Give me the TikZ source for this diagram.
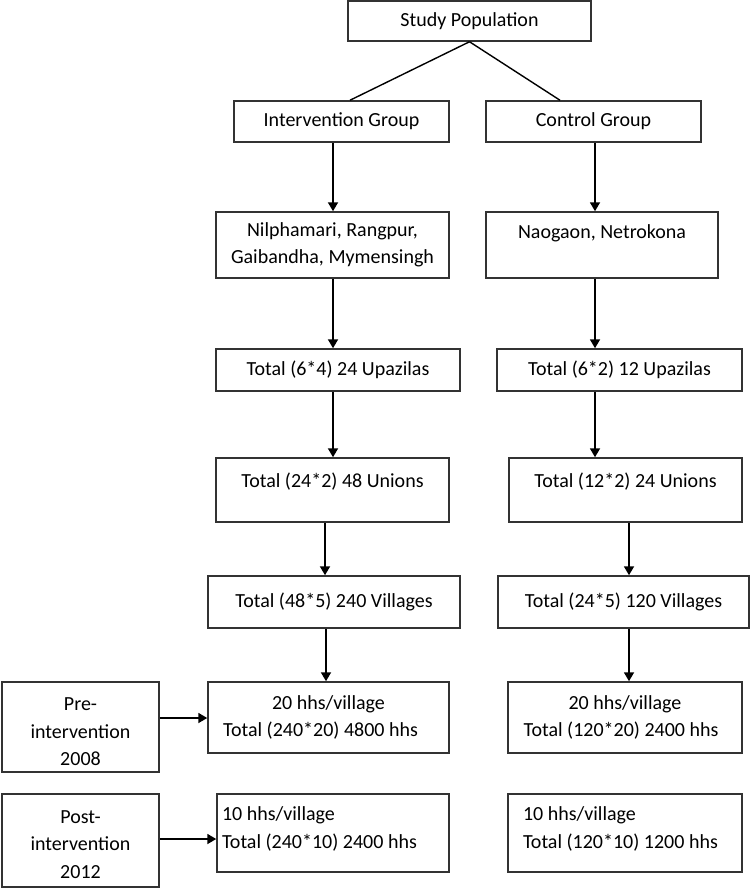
\documentclass[tikz,border=0pt]{standalone}
\usepackage{fontspec}
\setmainfont{Carlito}
\usetikzlibrary{arrows.meta}
\tikzset{
  box/.style={draw=black!80, line width=1.5pt, inner sep=0pt, align=center,
    font=\fontsize{20}{27.5}\selectfont, text=black},
  arr/.style={draw=black, line width=1.8pt, -{Triangle[length=9pt,width=10pt]}},
  conn/.style={draw=black, line width=1.4pt},
}
\begin{document}
\begin{tikzpicture}[x=1pt, y=-1pt]
\useasboundingbox (0,0) rectangle (751,888);
% top
\node[box, minimum width=243pt, minimum height=40pt] (sp) at (469.5,21) {Study Population};
\node[box, minimum width=215pt, minimum height=41pt] (ig) at (341.5,121.5) {Intervention Group};
\node[box, minimum width=215pt, minimum height=41pt] (cg) at (593.5,121.5) {Control Group};
% districts
\node[box, minimum width=233pt, minimum height=66pt] (nil) at (332.5,245) {Nilphamari, Rangpur,\\Gaibandha, Mymensingh};
\node[box, minimum width=232pt, minimum height=66pt] (nao) at (602,245) {Naogaon, Netrokona\\~};
% upazilas
\node[box, minimum width=244pt, minimum height=42pt] (upL) at (338,370) {Total (6*4) 24 Upazilas};
\node[box, minimum width=245pt, minimum height=42pt] (upR) at (619.5,370) {Total (6*2) 12 Upazilas};
% unions
\node[box, minimum width=233pt, minimum height=64pt] (unL) at (332.5,490) {Total (24*2) 48 Unions\\[-8pt]~};
\node[box, minimum width=233pt, minimum height=64pt] (unR) at (625.5,490) {Total (12*2) 24 Unions\\[-8pt]~};
% villages
\node[box, minimum width=252pt, minimum height=52pt] (viL) at (334,602) {Total (48*5) 240 Villages};
\node[box, minimum width=251pt, minimum height=52pt] (viR) at (623.5,602) {Total (24*5) 120 Villages};
% pre / post labels
\node[box, minimum width=157pt, minimum height=90pt] (pre) at (80.5,727)
  {\parbox{157pt}{\centering\vspace*{10pt}Pre-\\intervention\\2008}};
\node[box, minimum width=157pt, minimum height=93pt] (post) at (80.5,840.5)
  {\parbox{157pt}{\centering\vspace*{8pt}Post-\\intervention\\2012}};
% households
\node[box, minimum width=241pt, minimum height=71pt] (phL) at (328.5,717.5) {20 hhs/village\\Total (240*20) 4800 hhs\hspace*{16pt}};
\node[box, minimum width=234pt, minimum height=71pt] (phR) at (625,717.5) {20 hhs/village\\Total (120*20) 2400 hhs\hspace*{8pt}};
\node[box, minimum width=232pt, minimum height=78pt, inner xsep=5pt] (qhL) at (333,833)
  {\parbox{222pt}{\raggedright 10 hhs/village\\Total (240*10) 2400 hhs\par\vspace{8pt}}};
\node[box, minimum width=234pt, minimum height=78pt, inner xsep=15pt] (qhR) at (625,833)
  {\parbox{204pt}{\raggedright 10 hhs/village\\Total (120*10) 1200 hhs\par\vspace{8pt}}};
% connectors
\draw[conn] (sp.south) -- ([xshift=8.5pt]ig.north);
\draw[conn] (sp.south) -- ([xshift=-33.5pt]cg.north);
\draw[arr] ([xshift=0.5pt]ig.south -| nil.north) -- ([xshift=0.5pt]nil.north);
\draw[arr] ([xshift=1.5pt]cg.south) -- ([xshift=1.5pt]cg.south |- nao.north);
\draw[arr] ([xshift=0.5pt]nil.south) -- ([xshift=0.5pt]nil.south |- upL.north);
\draw[arr] ([xshift=-7pt]nao.south) -- ([xshift=-7pt]nao.south |- upR.north);
\draw[arr] ([xshift=-5pt]upL.south) -- ([xshift=-5pt]upL.south |- unL.north);
\draw[arr] ([xshift=-24.5pt]upR.south) -- ([xshift=-24.5pt]upR.south |- unR.north);
\draw[arr] ([xshift=-7.5pt]unL.south) -- ([xshift=-7.5pt]unL.south |- viL.north);
\draw[arr] ([xshift=3.5pt]unR.south) -- ([xshift=3.5pt]unR.south |- viR.north);
\draw[arr] ([xshift=-8pt]viL.south) -- ([xshift=-8pt]viL.south |- phL.north);
\draw[arr] ([xshift=5.5pt]viR.south) -- ([xshift=5.5pt]viR.south |- phR.north);
\draw[arr] ([yshift=-0.5pt]pre.east |- phL.west) -- ([yshift=-0.5pt]phL.west);
\draw[arr] ([yshift=1.5pt]post.east) -- ([yshift=1.5pt]post.east -| qhL.west);
\end{tikzpicture}
\end{document}
